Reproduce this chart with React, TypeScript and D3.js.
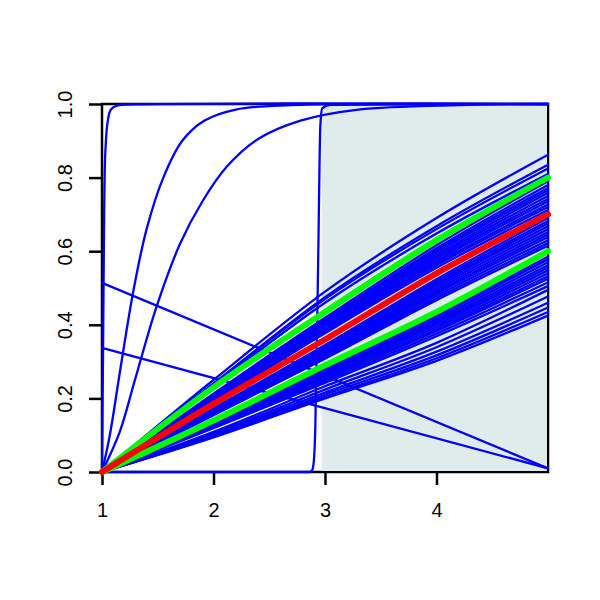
import React, { useEffect, useRef } from "react";
import * as d3 from "d3";

const xs = [1, 2, 3, 4, 5];

// blue fan of curves, values at x = 1..5
const blueFan = [
    [0, 0.25, 0.49, 0.69, 0.862],
    [0, 0.24, 0.475, 0.668, 0.835],
    [0, 0.24, 0.47, 0.66, 0.825],
    [0, 0.235, 0.46, 0.648, 0.81],
    [0, 0.213, 0.419, 0.616, 0.79],
    [0, 0.21, 0.413, 0.608, 0.78],
    [0, 0.208, 0.409, 0.602, 0.772],
    [0, 0.207, 0.405, 0.597, 0.765],
    [0, 0.205, 0.402, 0.591, 0.758],
    [0, 0.203, 0.398, 0.585, 0.75],
    [0, 0.2, 0.393, 0.579, 0.742],
    [0, 0.198, 0.39, 0.573, 0.735],
    [0, 0.196, 0.385, 0.567, 0.727],
    [0, 0.194, 0.382, 0.562, 0.72],
    [0, 0.19, 0.377, 0.555, 0.712],
    [0, 0.173, 0.345, 0.524, 0.69],
    [0, 0.17, 0.341, 0.518, 0.682],
    [0, 0.169, 0.338, 0.513, 0.675],
    [0, 0.167, 0.334, 0.508, 0.668],
    [0, 0.165, 0.33, 0.502, 0.66],
    [0, 0.163, 0.326, 0.496, 0.652],
    [0, 0.161, 0.323, 0.49, 0.645],
    [0, 0.16, 0.319, 0.485, 0.638],
    [0, 0.158, 0.315, 0.479, 0.63],
    [0, 0.156, 0.311, 0.473, 0.622],
    [0, 0.154, 0.308, 0.467, 0.615],
    [0, 0.137, 0.281, 0.427, 0.585],
    [0, 0.136, 0.277, 0.422, 0.578],
    [0, 0.134, 0.274, 0.416, 0.57],
    [0, 0.132, 0.27, 0.41, 0.562],
    [0, 0.13, 0.266, 0.405, 0.555],
    [0, 0.129, 0.263, 0.4, 0.548],
    [0, 0.127, 0.259, 0.394, 0.54],
    [0, 0.125, 0.255, 0.388, 0.532],
    [0, 0.123, 0.252, 0.383, 0.525],
    [0, 0.121, 0.247, 0.376, 0.515],
    [0, 0.119, 0.242, 0.369, 0.505],
    [0, 0.109, 0.233, 0.351, 0.495],
    [0, 0.105, 0.224, 0.339, 0.477],
    [0, 0.101, 0.216, 0.327, 0.46],
    [0, 0.098, 0.21, 0.317, 0.447],
    [0, 0.096, 0.204, 0.309, 0.435],
    [0, 0.094, 0.2, 0.302, 0.425],
];

const redCurve = [0, 0.185, 0.36, 0.54, 0.7];
const greenUpper = [0, 0.23, 0.435, 0.63, 0.8];
const greenLower = [0, 0.14, 0.29, 0.435, 0.6];

// steep curves, as [x, y] pairs
const steepNearOne = [[1, 0], [1.01, 0.35], [1.02, 0.72], [1.03, 0.87], [1.05, 0.95], [1.08, 0.985], [1.14, 0.996], [1.3, 0.999], [5, 1]];
const steepA = [[1, 0], [1.07, 0.1], [1.17, 0.29], [1.28, 0.49], [1.4, 0.66], [1.55, 0.8], [1.72, 0.9], [1.92, 0.955], [2.2, 0.985], [2.7, 0.997], [5, 1]];
const steepB = [[1, 0], [1.16, 0.11], [1.3, 0.255], [1.49, 0.45], [1.7, 0.62], [1.9, 0.735], [2.12, 0.83], [2.4, 0.905], [2.78, 0.955], [3.3, 0.985], [4.2, 0.997], [5, 0.999]];
const stepCurve = [[1, 0], [2.86, 0], [2.885, 0.005], [2.9, 0.03], [2.913, 0.12], [2.94, 0.6], [2.958, 0.94], [2.975, 0.988], [3.05, 0.998], [5, 1]];
const fallingLines = [
    [[1, 0.514], [5, 0.01]],
    [[1, 0.337], [5, 0.01]],
];

// shaded band
const shadeFrom = 2.97;
const shadeTo = 5;

const xTicks = [1, 2, 3, 4];
const yTicks = [0, 0.2, 0.4, 0.6, 0.8, 1.0];

export default function App() {
    const ref = useRef<SVGSVGElement>(null);

    useEffect(() => {
        const width = 600, height = 600;
        const margin = { top: 104, right: 52, bottom: 128, left: 102 };
        const font = "Liberation Sans, Arial, sans-serif";

        const x = d3.scaleLinear().domain([1, 5]).range([margin.left, width - margin.right]);
        const y = d3.scaleLinear().domain([0, 1]).range([height - margin.bottom, margin.top]);

        const svg = d3.select(ref.current);
        svg.selectAll("*").remove();

        svg.append("rect").attr("width", width).attr("height", height).attr("fill", "white");

        // box
        svg.append("rect")
            .attr("x", x(1)).attr("y", y(1))
            .attr("width", x(5) - x(1)).attr("height", y(0) - y(1))
            .attr("fill", "none").attr("stroke", "black").attr("stroke-width", 2.5);

        svg.append("rect")
            .attr("x", x(shadeFrom)).attr("y", y(1) + 1)
            .attr("width", x(shadeTo) - x(shadeFrom) - 1).attr("height", y(0) - y(1) - 2)
            .attr("fill", "#e0ecec");

        // axes
        const xAxis = svg.append("g").attr("transform", `translate(0,${y(0)})`)
            .call(d3.axisBottom(x).tickValues(xTicks).tickSize(13).tickFormat(d3.format("d")));
        xAxis.select(".domain").remove();
        xAxis.selectAll("line").attr("stroke-width", 2.5);
        xAxis.selectAll("text").attr("y", 31)
            .style("font-size", "20px").style("font-family", font).attr("fill", "black");

        const yAxis = svg.append("g").attr("transform", `translate(${x(1)},0)`)
            .call(d3.axisLeft(y).tickValues(yTicks).tickSize(13).tickFormat(d3.format(".1f")));
        yAxis.select(".domain").remove();
        yAxis.selectAll("line").attr("stroke-width", 2.5);
        yAxis.selectAll("text")
            .attr("x", 0).attr("dy", 0).attr("y", 0)
            .attr("transform", "translate(-37,0) rotate(-90)")
            .attr("text-anchor", "middle").attr("dominant-baseline", "central")
            .style("font-size", "20px").style("font-family", font).attr("fill", "black");

        const fanLine = d3.line<number>()
            .x((d, i) => x(xs[i]))
            .y(d => y(d))
            .curve(d3.curveMonotoneX);

        const smoothLine = d3.line<number[]>()
            .x(d => x(d[0]))
            .y(d => y(d[1]))
            .curve(d3.curveCatmullRom.alpha(0.5));

        const monoLine = d3.line<number[]>()
            .x(d => x(d[0]))
            .y(d => y(d[1]))
            .curve(d3.curveMonotoneX);

        const curves = svg.append("g").attr("fill", "none")
            .attr("stroke-linecap", "round").attr("stroke-linejoin", "round");

        curves.selectAll(".fan")
            .data(blueFan)
            .enter().append("path")
            .attr("class", "fan")
            .attr("d", d => fanLine(d))
            .attr("stroke", "#0000ff")
            .attr("stroke-width", 2.3);

        curves.selectAll(".steep")
            .data([steepNearOne, steepA, steepB, ...fallingLines])
            .enter().append("path")
            .attr("class", "steep")
            .attr("d", d => smoothLine(d))
            .attr("stroke", "#0000ff")
            .attr("stroke-width", 2.3);

        curves.append("path")
            .attr("d", monoLine(stepCurve))
            .attr("stroke", "#0000ff")
            .attr("stroke-width", 2.3);

        curves.selectAll(".thick")
            .data([
                { v: greenLower, c: "#00ff00" },
                { v: greenUpper, c: "#00ff00" },
                { v: redCurve, c: "#ff0000" },
            ])
            .enter().append("path")
            .attr("class", "thick")
            .attr("d", d => fanLine(d.v))
            .attr("stroke", d => d.c)
            .attr("stroke-width", 6);
    }, []);

    return (
        <div style={{ position: "absolute", left: 0, top: 0 }}>
            <svg width="600" height="600" ref={ref}></svg>
        </div>
    );
}
